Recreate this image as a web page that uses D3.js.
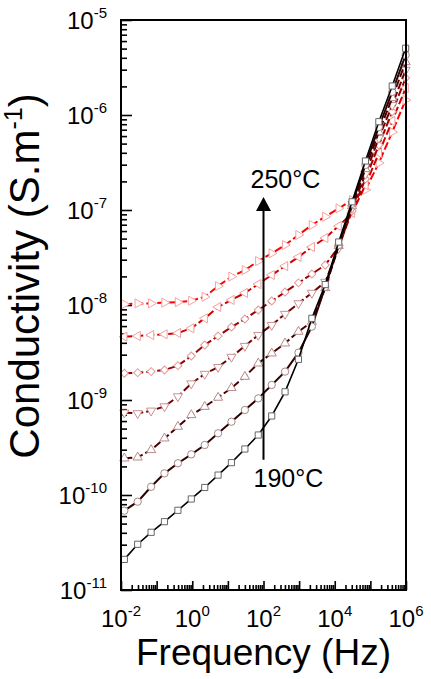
<!DOCTYPE html>
<html>
<head>
<meta charset="utf-8">
<script src="https://cdn.jsdelivr.net/npm/d3@7"></script>
<style>
  body { margin: 0; background: #fff; }
  text { font-family: 'Liberation Sans', Arial, sans-serif; fill: #000; }
</style>
</head>
<body>
<svg id="chart" width="431" height="679"></svg>
<script>
// Frequency points (Hz), same sweep for every temperature
const frequencies = [0.0124, 0.0294, 0.0700, 0.166, 0.396, 0.940, 2.24, 5.31, 12.6, 30.0, 71.3,
  170, 403, 958, 2280, 5410, 12900, 30600, 72700, 173000, 411000, 977000];

const temperatures = ['190', '200', '210', '220', '230', '240', '250'];

// Conductivity (S/m)
const sigma190 = [2.10e-11, 3.03e-11, 4.05e-11, 5.24e-11, 6.90e-11, 9.08e-11, 1.20e-10, 1.62e-10, 2.19e-10, 3.05e-10, 4.28e-10,
  6.79e-10, 1.22e-9, 2.68e-9, 7.24e-9, 1.64e-8, 4.60e-8, 1.22e-7, 3.28e-7, 8.50e-7, 2.02e-6, 5.04e-6];
const sigma200 = [6.84e-11, 8.50e-11, 1.22e-10, 1.69e-10, 2.16e-10, 2.68e-10, 3.36e-10, 4.46e-10, 5.91e-10, 7.85e-10, 1.04e-9,
  1.44e-9, 1.99e-9, 3.15e-9, 5.92e-9, 1.55e-8, 4.28e-8, 1.16e-7, 2.98e-7, 7.48e-7, 1.75e-6, 4.28e-6];
const sigma210 = [2.43e-10, 2.49e-10, 2.98e-10, 3.95e-10, 5.24e-10, 6.95e-10, 8.50e-10, 1.06e-9, 1.34e-9, 1.76e-9, 2.43e-9,
  3.10e-9, 3.95e-9, 5.24e-9, 6.67e-9, 1.51e-8, 4.18e-8, 1.10e-7, 2.70e-7, 6.62e-7, 1.51e-6, 3.61e-6];
const sigma220 = [7.35e-10, 7.24e-10, 7.71e-10, 8.55e-10, 1.09e-9, 1.49e-9, 1.88e-9, 2.22e-9, 2.84e-9, 3.70e-9, 4.83e-9,
  6.15e-9, 8.04e-9, 1.04e-8, 1.34e-8, 1.75e-8, 3.98e-8, 1.05e-7, 2.39e-7, 5.73e-7, 1.27e-6, 2.98e-6];
const sigma230 = [1.91e-9, 1.94e-9, 1.99e-9, 2.07e-9, 2.30e-9, 2.90e-9, 3.79e-9, 4.72e-9, 5.86e-9, 7.13e-9, 8.86e-9,
  1.10e-8, 1.37e-8, 1.71e-8, 2.12e-8, 2.64e-8, 4.08e-8, 9.75e-8, 2.12e-7, 4.83e-7, 1.08e-6, 2.45e-6];
const sigma240 = [4.64e-9, 4.72e-9, 4.83e-9, 4.92e-9, 5.07e-9, 5.69e-9, 7.24e-9, 9.53e-9, 1.13e-8, 1.34e-8, 1.66e-8,
  2.07e-8, 2.57e-8, 3.20e-8, 4.08e-8, 5.07e-8, 6.79e-8, 9.29e-8, 1.83e-7, 3.98e-7, 8.65e-7, 1.92e-6];
const sigma250 = [1.02e-8, 1.04e-8, 1.04e-8, 1.06e-8, 1.07e-8, 1.11e-8, 1.22e-8, 1.58e-8, 1.99e-8, 2.33e-8, 2.90e-8,
  3.50e-8, 4.28e-8, 5.46e-8, 6.95e-8, 8.50e-8, 1.04e-7, 1.27e-7, 1.63e-7, 3.13e-7, 6.62e-7, 1.44e-6];

const seriesValues = [sigma190, sigma200, sigma210, sigma220, sigma230, sigma240, sigma250];

// Tick labels (powers of ten)
const xLabelExponents = ['-2', '0', '2', '4', '6'];
const yLabelExponents = ['-11', '-10', '-9', '-8', '-7', '-6', '-5'];

// Arrow annotation (at 100 Hz)
const arrowFreq = 100;
const arrowFrom = 2.35e-10;
const arrowTo = 1.37e-7;

// Styling per temperature
const lineColors = ['#000000', '#2e0000', '#4a0000', '#720000', '#a00000', '#d00000', '#ff0000'];
const markerStroke = ['#666666', '#a68585', '#b58a8a', '#c99090', '#e39a9a', '#f2a0a0', '#f7a3a3'];
const dashes = [null, null, '8,3', '8,3', '8,3', '8,3', '8,3'];
const symbols = [
  { type: d3.symbolSquare, size: 38, rot: 0 },
  { type: d3.symbolCircle, size: 42, rot: 0 },
  { type: d3.symbolTriangle, size: 36, rot: 0 },
  { type: d3.symbolTriangle, size: 36, rot: 180 },
  { type: d3.symbolSquare, size: 32, rot: 45 },
  { type: d3.symbolTriangle, size: 36, rot: -90 },
  { type: d3.symbolTriangle, size: 36, rot: 90 },
];

// Margin conventions
const svg = d3.select('#chart');
const width = +svg.attr('width');
const height = +svg.attr('height');
const margin = { top: 20, right: 25, bottom: 89, left: 121 };
const innerWidth = width - margin.left - margin.right;
const innerHeight = height - margin.top - margin.bottom;

svg.append('rect').attr('width', width).attr('height', height).attr('fill', '#fff');
const chart = svg.append('g').attr('transform', `translate(${margin.left},${margin.top})`);

// Initialise scales
const xScale = d3.scaleLog().domain([1e-2, 1e6]).range([0, innerWidth]);
const yScale = d3.scaleLog().domain([1e-11, 1e-5]).range([innerHeight, 0]);

const xMajor = d3.range(-2, 7).map((k) => Math.pow(10, k));
const yMajor = d3.range(-11, -4).map((k) => Math.pow(10, k));
const minorOf = (decades) => {
  const out = [];
  decades.slice(0, -1).forEach((d) => {
    for (let m = 2; m <= 9; m++) out.push(m * d);
  });
  return out;
};

// Axes, ticks point into the plot
const styleTicks = (g) => {
  g.select('.domain').remove();
  g.selectAll('.tick line').attr('stroke', '#000').attr('stroke-width', 1.6);
};
chart.append('g')
  .attr('transform', `translate(0,${innerHeight})`)
  .call(d3.axisBottom(xScale).tickValues(xMajor).tickSize(-9).tickFormat(''))
  .call(styleTicks);
chart.append('g')
  .attr('transform', `translate(0,${innerHeight})`)
  .call(d3.axisBottom(xScale).tickValues(minorOf(xMajor)).tickSize(-5).tickFormat(''))
  .call(styleTicks);
chart.append('g')
  .call(d3.axisLeft(yScale).tickValues(yMajor).tickSize(-11).tickFormat(''))
  .call(styleTicks);
chart.append('g')
  .call(d3.axisLeft(yScale).tickValues(minorOf(yMajor)).tickSize(-6).tickFormat(''))
  .call(styleTicks);

// "base" followed by a raised exponent, built from two text nodes.
// anchor: 'start' | 'middle' | 'end' for the pair as a whole
const supLabel = (parent, x, y, base, exp, size, supSize, rise, anchor) => {
  const g = parent.append('g');
  const t1 = g.append('text').attr('y', y).attr('font-size', size).text(base);
  const t2 = g.append('text').attr('y', y - rise).attr('font-size', supSize).text(exp);
  const w1 = t1.node().getComputedTextLength();
  const w2 = t2.node().getComputedTextLength();
  const total = w1 + w2;
  const x0 = anchor === 'middle' ? x - total / 2 : anchor === 'end' ? x - total : x;
  t1.attr('x', x0);
  t2.attr('x', x0 + w1);
  return { g, right: x0 + total };
};

xLabelExponents.forEach((e) => {
  supLabel(chart, xScale(Math.pow(10, +e)), innerHeight + 37, '10', e, 24, 15, 11, 'middle');
});
yLabelExponents.forEach((e) => {
  supLabel(chart, -14, yScale(Math.pow(10, +e)) + 9, '10', e, 24, 15, 11, 'end');
});

// Series lines and markers, hottest first
const line = d3.line()
  .x((d) => xScale(d[0]))
  .y((d) => yScale(d[1]));

for (let s = seriesValues.length - 1; s >= 0; s--) {
  const pts = frequencies.map((f, i) => [f, seriesValues[s][i]]);
  chart.append('path')
    .datum(pts)
    .attr('fill', 'none')
    .attr('stroke', lineColors[s])
    .attr('stroke-width', s === 0 ? 1.6 : 2)
    .attr('stroke-dasharray', dashes[s])
    .attr('d', line);

  const sym = d3.symbol().type(symbols[s].type).size(symbols[s].size);
  chart.append('g')
    .selectAll('path')
    .data(pts)
    .join('path')
    .attr('d', sym)
    .attr('transform', (d) => `translate(${xScale(d[0])},${yScale(d[1])}) rotate(${symbols[s].rot})`)
    .attr('fill', '#fff')
    .attr('stroke', markerStroke[s])
    .attr('stroke-width', 1);
}

// Frame
chart.append('rect')
  .attr('width', innerWidth)
  .attr('height', innerHeight)
  .attr('fill', 'none')
  .attr('stroke', '#000')
  .attr('stroke-width', 2);

// Arrow from 190 to 250 °C
const ax = xScale(arrowFreq);
const tipY = yScale(arrowTo);
chart.append('line')
  .attr('x1', ax).attr('x2', ax)
  .attr('y1', yScale(arrowFrom)).attr('y2', tipY + 12)
  .attr('stroke', '#000')
  .attr('stroke-width', 2);
chart.append('path')
  .attr('d', `M${ax},${tipY} L${ax - 7.5},${tipY + 14} L${ax + 7.5},${tipY + 14} Z`)
  .attr('fill', '#000');

chart.append('text')
  .attr('x', ax - 13)
  .attr('y', tipY - 9)
  .attr('font-size', 25)
  .text(temperatures[6] + '°C');
chart.append('text')
  .attr('x', ax - 10)
  .attr('y', yScale(arrowFrom) + 27)
  .attr('font-size', 25)
  .text(temperatures[0] + '°C');

// Axis titles
svg.append('text')
  .attr('x', margin.left + innerWidth / 2)
  .attr('y', 665)
  .attr('text-anchor', 'middle')
  .attr('font-size', 37)
  .text('Frequency (Hz)');

const yTitle = svg.append('g').attr('transform', 'translate(39,276) rotate(-90)');
const part1 = yTitle.append('text').attr('font-size', 42).text('Conductivity (S.m');
const part2 = yTitle.append('text').attr('font-size', 25).attr('y', -17).text('-1');
const part3 = yTitle.append('text').attr('font-size', 42).text(')');
const w1 = part1.node().getComputedTextLength();
const w2 = part2.node().getComputedTextLength();
const w3 = part3.node().getComputedTextLength();
const start = -(w1 + w2 + w3) / 2;
part1.attr('x', start);
part2.attr('x', start + w1);
part3.attr('x', start + w1 + w2);
</script>
</body>
</html>
